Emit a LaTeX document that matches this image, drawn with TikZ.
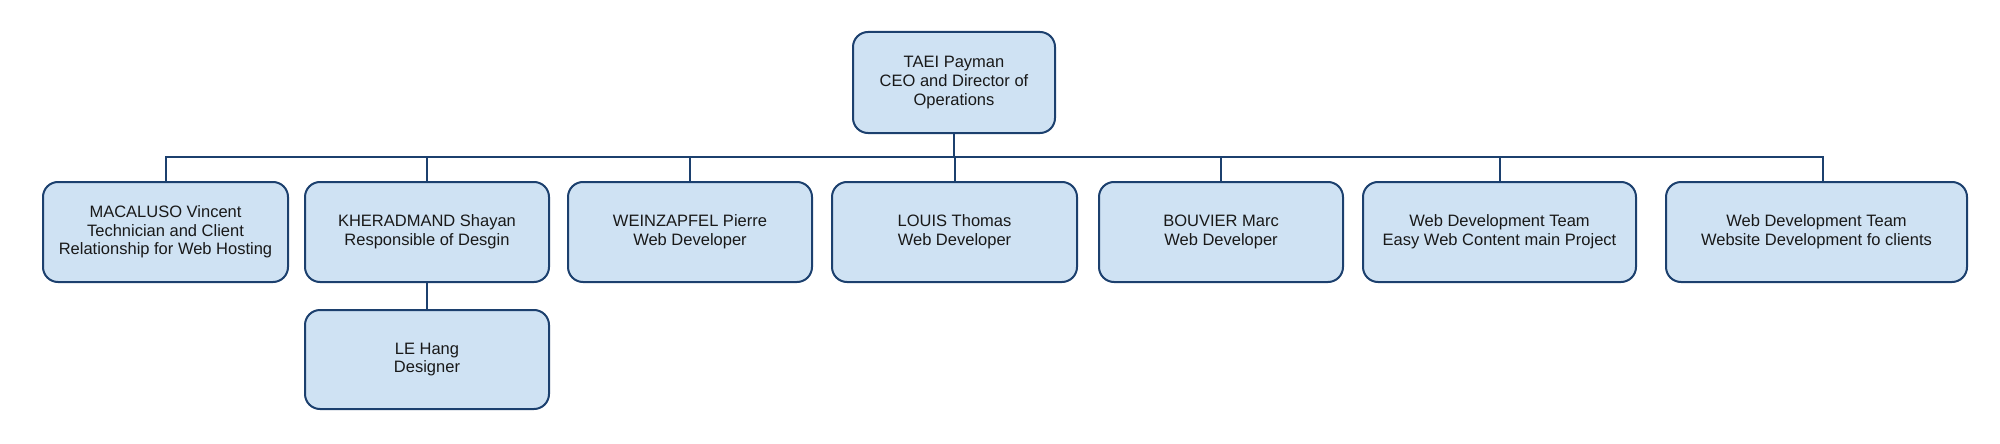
\documentclass[tikz,border=0pt]{standalone}
\usepackage{fontspec}
\setmainfont{Liberation Sans}
\definecolor{boxfill}{RGB}{207,226,243}
\definecolor{boxline}{RGB}{28,64,110}
\begin{document}
\begin{tikzpicture}[x=1pt,y=1pt,
  orgbox/.style={draw=boxline, fill=boxfill, line width=2pt, rounded corners=15pt,
    align=center, inner sep=0pt, minimum height=100pt,
    font=\fontsize{16.5}{18.7}\selectfont, text=black!90},
  link/.style={draw=boxline, line width=2pt}]
\useasboundingbox (0,0) rectangle (2000,-444);
\node[orgbox, minimum width=202pt, minimum height=101pt] (ceo) at (954,-82.5) {TAEI Payman\\CEO and Director of\\Operations};
\node[orgbox, minimum width=245pt] (b1) at (165.5,-232) {MACALUSO Vincent\\Technician and Client\\Relationship for Web Hosting};
\node[orgbox, minimum width=244pt] (b2) at (427,-232) {KHERADMAND Shayan\\Responsible of Desgin};
\node[orgbox, minimum width=244pt] (b3) at (690,-232) {WEINZAPFEL Pierre\\Web Developer};
\node[orgbox, minimum width=245pt] (b4) at (954.5,-232) {LOUIS Thomas\\Web Developer};
\node[orgbox, minimum width=244pt] (b5) at (1221,-232) {BOUVIER Marc\\Web Developer};
\node[orgbox, minimum width=273pt] (b6) at (1499.5,-232) {Web Development Team\\Easy Web Content main Project};
\node[orgbox, minimum width=301pt] (b7) at (1816.5,-232) {Web Development Team\\Website Development fo clients};
\node[orgbox, minimum width=244pt, minimum height=99pt] (le) at (427,-359.5) {LE Hang\\Designer};
\coordinate (bus) at (0,-157);
\coordinate (b7top) at ([xshift=6.5pt]b7.north);
\draw[link] (ceo.south) -- (ceo.south |- bus);
\draw[link] (b1.north) -- (b1.north |- bus) -- (b7top |- bus) -- (b7top);
\foreach \n in {b2,b3,b4,b5,b6} \draw[link] (\n.north) -- (\n.north |- bus);
\draw[link] (b2.south) -- (le.north);
\end{tikzpicture}
\end{document}
